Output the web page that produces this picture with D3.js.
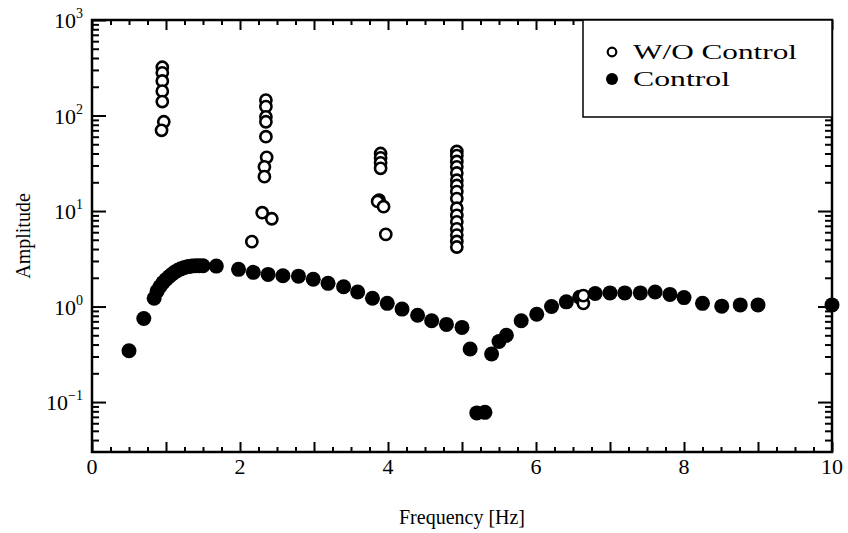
<!DOCTYPE html>
<html lang="en">
<head>
<meta charset="utf-8">
<title>Amplitude vs Frequency</title>
<style>
  body { margin: 0; background: #fff; }
  text { font-family: "Liberation Serif", "DejaVu Serif", serif; fill: #000; }
</style>
</head>
<body>
<svg id="chart" width="848" height="533"></svg>
<script src="https://cdn.jsdelivr.net/npm/d3@7/dist/d3.min.js"></script>
<script>
// data
const ctrlFreq = [0.50, 0.70, 0.84, 0.88, 0.92, 0.96, 1.00, 1.04, 1.08, 1.12, 1.16, 1.20, 1.25, 1.30, 1.35, 1.40, 1.45, 1.50,
  1.68, 1.98, 2.18, 2.38, 2.58, 2.79, 2.99, 3.19, 3.40, 3.59, 3.79, 3.99, 4.19, 4.40, 4.59, 4.79, 5.00,
  5.11, 5.20, 5.31, 5.40, 5.50, 5.60, 5.80, 6.01, 6.21, 6.41, 6.59, 6.80, 7.00, 7.20, 7.41, 7.61, 7.81,
  8.00, 8.25, 8.51, 8.76, 9.00, 10.0];
const ctrlAmp = [0.344, 0.75, 1.22, 1.45, 1.62, 1.78, 1.92, 2.05, 2.18, 2.30, 2.40, 2.48, 2.56, 2.62, 2.66, 2.68, 2.68, 2.67,
  2.65, 2.45, 2.28, 2.17, 2.10, 2.08, 1.93, 1.75, 1.61, 1.42, 1.22, 1.08, 0.94, 0.81, 0.71, 0.65, 0.605,
  0.359, 0.077, 0.078, 0.318, 0.43, 0.50, 0.71, 0.83, 1.00, 1.12, 1.25, 1.37, 1.39, 1.39, 1.39, 1.42, 1.34,
  1.24, 1.08, 1.01, 1.04, 1.04, 1.04];

const woFreq = [0.95, 0.95, 0.95, 0.95, 0.95, 0.97, 0.94,
  2.35, 2.35, 2.35, 2.35, 2.35, 2.36, 2.33, 2.33, 2.30, 2.43, 2.16,
  3.90, 3.90, 3.90, 3.90, 3.88, 3.86, 3.94, 3.97,
  4.93, 4.93, 4.93, 4.93, 4.93, 4.93, 4.93, 4.93, 4.93, 4.93, 4.93, 4.93, 4.93, 4.93, 4.93, 4.93,
  6.64, 6.64];
const woAmp = [320, 280, 230, 180, 140, 86, 70,
  145, 124, 97, 86, 60, 36.5, 29, 22.9, 9.6, 8.3, 4.78,
  40, 36, 32, 28, 13, 12.6, 11.1, 5.7,
  42, 38, 33, 29, 25, 21, 18.5, 16, 13.5, 10.7, 9, 7.7, 6.5, 5.6, 4.8, 4.2,
  1.08, 1.30];

const xLabels = [0, 2, 4, 6, 8, 10];
const yLabels = [0.1, 1, 10, 100, 1000];
const legendNames = ["W/O Control", "Control"];

const svg = d3.select("#chart");
const pLeft = 92, pRight = 832, pTop = 20, pBottom = 452;

let x = d3.scaleLinear().domain([0, 10]).range([pLeft, pRight]);
let y = d3.scaleLog().domain([0.03, 1000]).range([pBottom, pTop]);

// ticks: x minor every 0.25, longer at integers; y log minors
let xMinor = d3.range(0, 10.001, 0.25).filter(v => Math.abs(v - Math.round(v)) > 1e-6);
let xInt = d3.range(0, 11, 1);
let yMinor = y.ticks().filter(v => yLabels.indexOf(v) < 0 && v > 0.03);

function tickAxis(gen, vals, size) {
  return gen.tickValues(vals).tickSize(size).tickFormat("");
}

// bottom & top
svg.append("g").attr("transform", `translate(0,${pBottom})`).call(tickAxis(d3.axisBottom(x), xMinor, -5));
svg.append("g").attr("transform", `translate(0,${pBottom})`).call(tickAxis(d3.axisBottom(x), xInt, -10));
svg.append("g").attr("transform", `translate(0,${pTop})`).call(tickAxis(d3.axisTop(x), xMinor, -5));
svg.append("g").attr("transform", `translate(0,${pTop})`).call(tickAxis(d3.axisTop(x), xInt, -10));
// left & right
svg.append("g").attr("transform", `translate(${pLeft},0)`).call(tickAxis(d3.axisLeft(y), yMinor, -7));
svg.append("g").attr("transform", `translate(${pLeft},0)`).call(tickAxis(d3.axisLeft(y), yLabels, -14));
svg.append("g").attr("transform", `translate(${pRight},0)`).call(tickAxis(d3.axisRight(y), yMinor, -7));
svg.append("g").attr("transform", `translate(${pRight},0)`).call(tickAxis(d3.axisRight(y), yLabels, -14));

svg.selectAll(".domain").remove();
svg.selectAll(".tick line").attr("stroke", "#000").attr("stroke-width", 2);

// frame
svg.append("rect")
  .attr("x", pLeft).attr("y", pTop)
  .attr("width", pRight - pLeft).attr("height", pBottom - pTop)
  .attr("fill", "none").attr("stroke", "#000").attr("stroke-width", 2.5);

// tick labels
svg.selectAll(".xlab").data(xLabels).enter().append("text")
  .attr("x", d => x(d)).attr("y", pBottom + 22)
  .attr("text-anchor", "middle").style("font-size", "22px")
  .text(d => d);

let ylab = svg.selectAll(".ylab").data(yLabels).enter().append("text")
  .attr("x", pLeft - 9).attr("y", d => y(d) + 8)
  .attr("text-anchor", "end").style("font-size", "22px");
ylab.append("tspan").text("10");
ylab.append("tspan").attr("dy", -10).style("font-size", "14px").text(d => Math.round(Math.log10(d)) < 0 ? "\u2212" + Math.abs(Math.round(Math.log10(d))) : Math.round(Math.log10(d)));

// axis titles
svg.append("text").attr("x", (pLeft + pRight) / 2).attr("y", 524)
  .attr("text-anchor", "middle").style("font-size", "20px").text("Frequency [Hz]");
svg.append("text").attr("transform", "translate(30,236) rotate(-90)")
  .attr("text-anchor", "middle").style("font-size", "20px").text("Amplitude");

// points
let ctrl = ctrlFreq.map((f, i) => ({ f: f, a: ctrlAmp[i] }));
let wo = woFreq.map((f, i) => ({ f: f, a: woAmp[i] }));

svg.append("g").selectAll("circle").data(ctrl).enter().append("circle")
  .attr("cx", d => x(d.f)).attr("cy", d => y(d.a)).attr("r", 7.5)
  .attr("fill", "#000");

svg.append("g").selectAll("circle").data(wo).enter().append("circle")
  .attr("cx", d => x(d.f)).attr("cy", d => y(d.a)).attr("r", 5.6)
  .attr("fill", "#fff").attr("stroke", "#000").attr("stroke-width", 2.6);

// legend
let lg = svg.append("g");
lg.append("rect").attr("x", 583).attr("y", pTop).attr("width", pRight - 583).attr("height", 97)
  .attr("fill", "#fff").attr("stroke", "#000").attr("stroke-width", 1.5);
lg.append("circle").attr("cx", 612).attr("cy", 52).attr("r", 4.3)
  .attr("fill", "#fff").attr("stroke", "#000").attr("stroke-width", 2.2);
lg.append("circle").attr("cx", 612).attr("cy", 79).attr("r", 6).attr("fill", "#000");
lg.append("text").attr("x", 633).attr("y", 59).style("font-size", "22px")
  .attr("textLength", 164).attr("lengthAdjust", "spacingAndGlyphs").text(legendNames[0]);
lg.append("text").attr("x", 633).attr("y", 86).style("font-size", "22px")
  .attr("textLength", 97).attr("lengthAdjust", "spacingAndGlyphs").text(legendNames[1]);
</script>
</body>
</html>
